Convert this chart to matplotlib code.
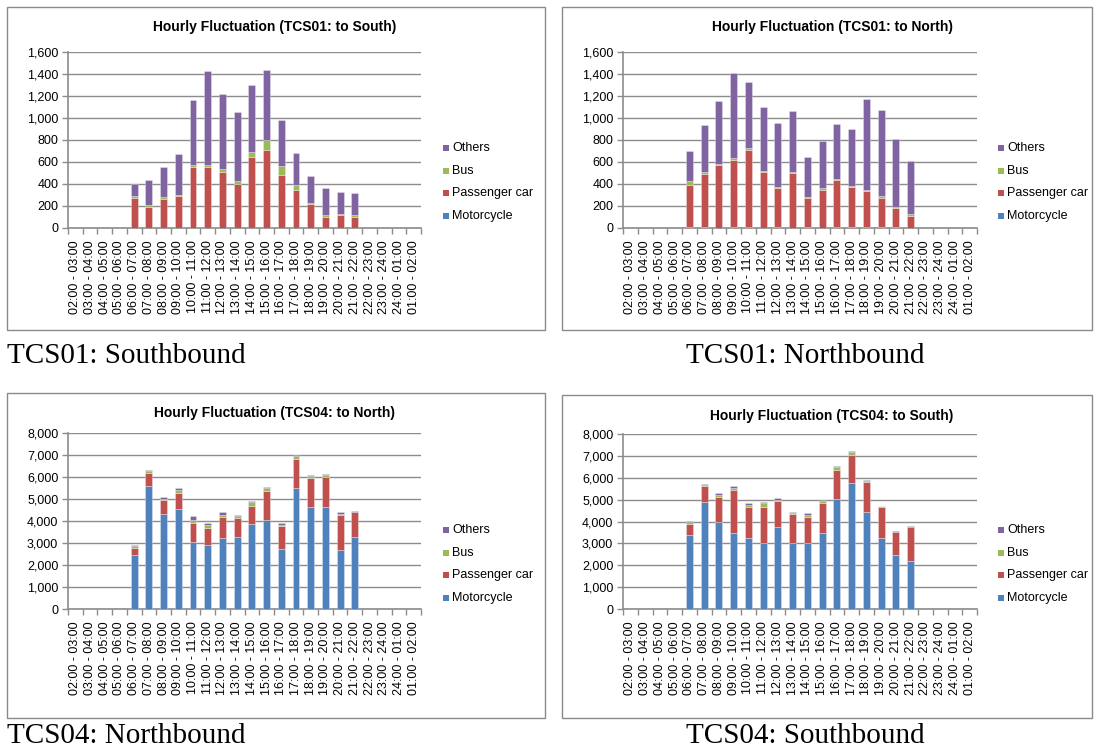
import numpy as np
import matplotlib
matplotlib.use("Agg")
import matplotlib.pyplot as plt
from matplotlib.patches import Rectangle

# ---- data ---------------------------------------------------------------
hours = ["02:00 - 03:00", "03:00 - 04:00", "04:00 - 05:00", "05:00 - 06:00",
         "06:00 - 07:00", "07:00 - 08:00", "08:00 - 09:00", "09:00 - 10:00",
         "10:00 - 11:00", "11:00 - 12:00", "12:00 - 13:00", "13:00 - 14:00",
         "14:00 - 15:00", "15:00 - 16:00", "16:00 - 17:00", "17:00 - 18:00",
         "18:00 - 19:00", "19:00 - 20:00", "20:00 - 21:00", "21:00 - 22:00",
         "22:00 - 23:00", "23:00 - 24:00", "24:00 - 01:00", "01:00 - 02:00"]
vehicle_types = ["Motorcycle", "Passenger car", "Bus", "Others"]

# counted hours 06:00 - 22:00 (remaining hours have no counts)
tcs01_south_moto = [0] * 16
tcs01_south_car = [274, 195, 265, 293, 555, 555, 512, 403, 644, 705, 485, 348, 220, 101, 116, 101]
tcs01_south_bus = [19, 12, 16, 9, 18, 18, 22, 21, 51, 91, 79, 42, 9, 18, 15, 18]
tcs01_south_oth = [107, 226, 274, 375, 595, 851, 686, 634, 604, 638, 421, 293, 241, 241, 198, 198]

tcs01_north_moto = [5, 5, 0, 5, 5, 0, 5, 0, 5, 0, 5, 5, 5, 5, 5, 0]
tcs01_north_car = [388, 482, 572, 615, 703, 505, 355, 496, 267, 348, 428, 364, 328, 264, 173, 112]
tcs01_north_bus = [37, 18, 9, 18, 21, 9, 12, 9, 9, 12, 12, 12, 9, 21, 10, 15]
tcs01_north_oth = [272, 430, 569, 775, 602, 584, 584, 563, 360, 433, 502, 523, 829, 781, 620, 484]

tcs04_north_moto = [2450, 5600, 4330, 4550, 3030, 2920, 3240, 3290, 3850, 4050, 2730, 5520, 4640, 4640, 2680, 3270]
tcs04_north_car = [318, 576, 622, 712, 894, 758, 925, 833, 834, 1303, 1030, 1303, 1318, 1379, 1575, 1122]
tcs04_north_bus = [91, 91, 45, 152, 136, 151, 121, 91, 166, 152, 76, 136, 76, 61, 76, 15]
tcs04_north_oth = [60, 60, 76, 76, 152, 61, 106, 76, 61, 60, 61, 61, 61, 60, 61, 45]

tcs04_south_moto = [3390, 4870, 3955, 3497, 3237, 3008, 3741, 3008, 3008, 3497, 5024, 5757, 4413, 3252, 2474, 2184]
tcs04_south_car = [473, 733, 1160, 1924, 1420, 1634, 1191, 1313, 1191, 1328, 1344, 1298, 1374, 1405, 1038, 1542]
tcs04_south_bus = [137, 76, 107, 122, 107, 198, 61, 61, 107, 92, 106, 107, 61, 31, 15, 15]
tcs04_south_oth = [31, 31, 76, 61, 61, 61, 61, 61, 61, 76, 77, 76, 61, 30, 31, 61]

first_counted_hour = 4

# ---- styling --------------------------------------------------------------
colors = {"Motorcycle": "#4F81BD", "Passenger car": "#C0504D",
          "Bus": "#9BBB59", "Others": "#8064A2"}
grid_col = "#8C8C8C"
sans = ["Liberation Sans", "DejaVu Sans"]
serif = ["Liberation Serif", "DejaVu Serif"]

W, H = 1095, 751
fig = plt.figure(figsize=(W / 100, H / 100), dpi=100)
fig.patch.set_facecolor("white")


def fx(x):
    return x / W


def fy(y):
    return 1 - y / H


def full(series):
    out = np.zeros(len(hours))
    out[first_counted_hour:first_counted_hour + len(series)] = series
    return out


panels = [
    dict(box=(7, 7, 545, 330), ax=(68, 52, 421, 228), ymax=1600, ystep=200,
         title="Hourly Fluctuation (TCS01: to South)", tx=275, ty=27,
         legend=(443, 148), caption="TCS01: Southbound", cx=7, cy=363, cha="left",
         data=(tcs01_south_moto, tcs01_south_car, tcs01_south_bus, tcs01_south_oth)),
    dict(box=(562, 7, 1092, 330), ax=(623, 52, 977, 228), ymax=1600, ystep=200,
         title="Hourly Fluctuation (TCS01: to North)", tx=832, ty=27,
         legend=(998, 148), caption="TCS01: Northbound", cx=805, cy=363, cha="center",
         data=(tcs01_north_moto, tcs01_north_car, tcs01_north_bus, tcs01_north_oth)),
    dict(box=(7, 393, 545, 718), ax=(68, 433, 421, 609), ymax=8000, ystep=1000,
         title="Hourly Fluctuation (TCS04: to North)", tx=275, ty=413,
         legend=(443, 530), caption="TCS04: Northbound", cx=7, cy=743, cha="left",
         data=(tcs04_north_moto, tcs04_north_car, tcs04_north_bus, tcs04_north_oth)),
    dict(box=(562, 395, 1092, 718), ax=(623, 434, 977, 609), ymax=8000, ystep=1000,
         title="Hourly Fluctuation (TCS04: to South)", tx=832, ty=416,
         legend=(998, 530), caption="TCS04: Southbound", cx=805, cy=743, cha="center",
         data=(tcs04_south_moto, tcs04_south_car, tcs04_south_bus, tcs04_south_oth)),
]

x = np.arange(len(hours))
for p in panels:
    # chart frame
    l, t, r, b = p["box"]
    fig.patches.append(Rectangle((fx(l), fy(b)), fx(r - l), (b - t) / H,
                                 transform=fig.transFigure, fill=False,
                                 edgecolor="#8A8A8A", linewidth=1.0))
    al, at, ar, ab = p["ax"]
    ax = fig.add_axes([fx(al), fy(ab), fx(ar - al), (ab - at) / H])
    ax.set_facecolor("none")

    bottom = np.zeros(len(hours))
    for name, series in zip(vehicle_types, p["data"]):
        vals = full(series)
        ax.bar(x, vals, width=0.47, bottom=bottom, color=colors[name],
               edgecolor=(1, 1, 1, 0.35), linewidth=0.6, zorder=3)
        bottom += vals

    ax.set_xlim(-0.5, len(hours) - 0.5)
    ax.set_ylim(0, p["ymax"])
    yt = np.arange(0, p["ymax"] + 1, p["ystep"])
    ax.set_yticks(yt)
    ax.set_yticklabels([f"{v:,}" for v in yt], fontfamily=sans, fontsize=9)
    ax.yaxis.grid(True, color=grid_col, linewidth=1.0, zorder=0)
    ax.set_axisbelow(True)

    ax.set_xticks(x)
    ax.set_xticklabels(hours, rotation=90, fontfamily=sans, fontsize=9)
    ax.set_xticks(np.arange(-0.5, len(hours), 1), minor=True)
    ax.tick_params(axis="x", which="major", length=0, pad=9)
    ax.tick_params(axis="x", which="minor", length=4, color=grid_col, width=1)
    ax.tick_params(axis="y", length=4, color=grid_col, width=1, pad=3)

    for s in ("top", "right"):
        ax.spines[s].set_visible(False)
    for s in ("left", "bottom"):
        ax.spines[s].set_color(grid_col)
        ax.spines[s].set_linewidth(1.2)

    fig.text(fx(p["tx"]), fy(p["ty"]), p["title"], ha="center", va="center",
             fontfamily=sans, fontsize=10, fontweight="bold")

    # legend, listed top-down in reverse stacking order
    lx, ly = p["legend"]
    for i, name in enumerate(reversed(vehicle_types)):
        yy = ly + i * 22.5
        fig.patches.append(Rectangle((fx(lx), fy(yy + 3)), fx(6), 6 / H,
                                     transform=fig.transFigure,
                                     facecolor=colors[name], edgecolor="none"))
        fig.text(fx(lx + 9), fy(yy), name, ha="left", va="center",
                 fontfamily=sans, fontsize=9)

    fig.text(fx(p["cx"]), fy(p["cy"]), p["caption"], ha=p["cha"], va="baseline",
             fontfamily=serif, fontsize=21)

fig.savefig("out.png", dpi=100)
